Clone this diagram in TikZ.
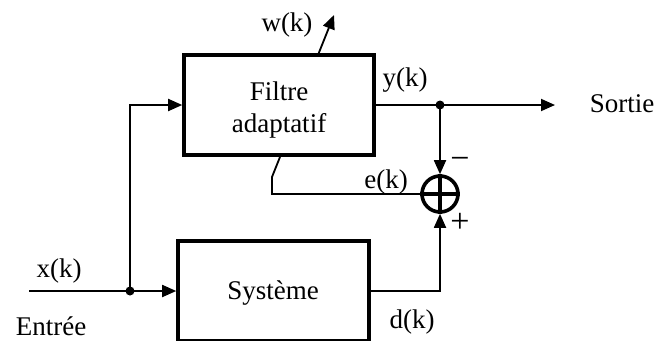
\documentclass[tikz,border=0pt]{standalone}
\usepackage{fontspec}
\setmainfont{Liberation Serif}
\usetikzlibrary{arrows.meta}
\tikzstyle{bloc} = [draw, line width=3.6pt, inner sep=0pt]
\tikzstyle{fil} = [line width=1.8pt]
\tikzstyle{fleche} = [fil, -{Triangle[length=14pt,width=12pt]}]
\tikzstyle{lbl} = [font=\fontsize{27}{32}\selectfont, inner sep=0pt, anchor=base]
\tikzstyle{signe} = [font=\fontsize{34}{34}\selectfont, inner sep=0pt]

\begin{document}
\begin{tikzpicture}[x=1pt, y=-1pt]
    \useasboundingbox (0,0) rectangle (658,340);

    % Blocs
    \node[bloc, minimum width=190pt, minimum height=100pt] (filtre) at (279,105) {};
    \node[lbl] (t1) at (279,100) {Filtre};
    \node[lbl] (t2) at (279,132) {adaptatif};
    \node[bloc, minimum width=191pt, minimum height=100pt] (systeme) at (273.5,291) {};
    \node[lbl] (t3) at (273,299) {Système};
    \node[draw, circle, line width=3.6pt, minimum size=36pt, inner sep=0pt] (somme) at (440,194) {};
    \draw[line width=3.2pt] (somme.north) -- (somme.south) (somme.west) -- (somme.east);

    % Points de branchement
    \coordinate (entree) at (29,291);
    \coordinate (bx) at (130,291);
    \coordinate (by) at (440,105);
    \coordinate (sortie) at (555,105);
    \coordinate (w) at (334,15);
    \fill (bx) circle (4.5pt);
    \fill (by) circle (4.5pt);

    % Connexions
    \draw[fil] (entree) -- (bx);
    \draw[fleche] (bx) -- (systeme.west);
    \draw[fleche] (bx) |- (filtre.west);
    \draw[fleche] (filtre.east) -- (sortie);
    \draw[fleche] (by) -- (somme.north);
    \draw[fleche] (systeme.east |- bx) -| (somme.south);
    \draw[fil] (somme.west) -| (272,177) -- (280,157);
    \draw[fleche] (318,55) -- (w);

    % Etiquettes
    \node[lbl] (lw) at (287,31) {w(k)};
    \node[lbl] (ly) at (405,86) {y(k)};
    \node[lbl] (ls) at (622,112) {Sortie};
    \node[lbl] (le) at (386,188) {e(k)};
    \node[lbl] (lx) at (59,277) {x(k)};
    \node[lbl] (lent) at (51,335) {Entrée};
    \node[lbl] (ld) at (412,328) {d(k)};
    \node[signe] (moins) at (460,163) {−};
    \node[signe] (plus) at (460,223) {+};
\end{tikzpicture}
\end{document}
